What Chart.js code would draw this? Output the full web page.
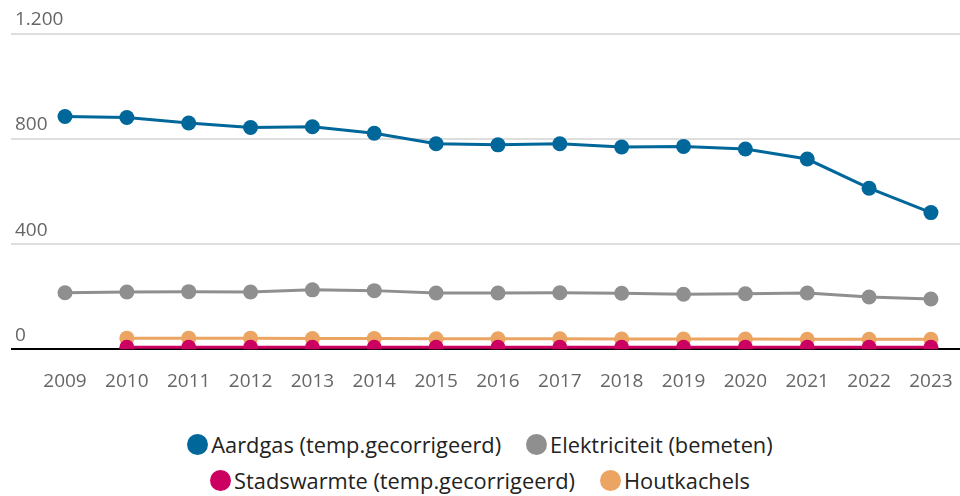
<!DOCTYPE html>
<html lang="nl">
<head>
<meta charset="utf-8">
<script src="https://cdn.jsdelivr.net/npm/chart.js@4/dist/chart.umd.min.js"></script>
<style>
  html,body{margin:0;padding:0;background:#fff;}
  body{width:960px;height:496px;overflow:hidden;font-family:"Open Sans",sans-serif;}
  .wrap{position:relative;width:960px;height:408px;}
  #legend{display:flex;flex-wrap:wrap;justify-content:center;width:640px;margin:24px auto 0;column-gap:25px;row-gap:11px;}
  #legend .item{display:flex;align-items:center;font-size:21.8px;color:#222;height:25px;}
  #legend .dot{width:21px;height:21px;border-radius:50%;margin-right:3px;}
</style>
</head>
<body>
<div class="wrap"><canvas id="energyChart"></canvas></div>
<div id="legend"></div>
<script>
// Jaren en verbruik per energiebron
const years = [2009,2010,2011,2012,2013,2014,2015,2016,2017,2018,2019,2020,2021,2022,2023];
const aardgas = [886,882,861,844,847,822,782,778,782,770,772,762,724,613,520];
const elektriciteit = [215,218,219,218,226,223,214,214,215,213,209,211,214,199,191];
const stadswarmte = [null,7,7,7,7,7,7,7,7,7,7,7,7,7,7];
const houtkachels = [null,42,42,42,41,41,40,40,40,39,39,39,38,38,38];
const yTicks = [0,400,800,1200];

const names = ['Aardgas (temp.gecorrigeerd)','Elektriciteit (bemeten)','Stadswarmte (temp.gecorrigeerd)','Houtkachels'];
const colors = ['#00679a','#8f8f8f','#cc0060','#eba462'];

function pts(arr){return years.map((y,i)=>({x:y,y:arr[i]}));}
function ds(i,arr,order){
    return {label:names[i],data:pts(arr),borderColor:colors[i],backgroundColor:colors[i],
        borderWidth:3,pointRadius:7.5,pointHoverRadius:7.5,pointBorderWidth:0,tension:0,order:order};
}

const ctx = document.getElementById('energyChart').getContext('2d');
const chart = new Chart(ctx,{
    type:'line',
    data:{datasets:[ds(0,aardgas,1),ds(1,elektriciteit,2),ds(2,stadswarmte,3),ds(3,houtkachels,4)]},
    options:{
        responsive:true,maintainAspectRatio:false,animation:false,locale:'nl-NL',
        layout:{autoPadding:false,padding:{left:3,right:0,top:34,bottom:2}},
        plugins:{legend:{display:false},tooltip:{enabled:false}},
        scales:{
            x:{type:'linear',min:2008.127,max:2023.47,
                grid:{display:false},border:{display:false},
                afterBuildTicks:s=>{s.ticks=years.map(v=>({value:v}));},
                afterFit:s=>{s.paddingLeft=0;s.paddingRight=0;},
                ticks:{color:'#666',font:{family:'Open Sans',size:19},padding:13,callback:v=>String(v),maxRotation:0,autoSkip:false}},
            y:{min:0,max:1200,
                afterBuildTicks:s=>{s.ticks=yTicks.map(v=>({value:v}));},
                grid:{drawTicks:false,lineWidth:2,color:c=>c.tick&&c.tick.value===0?'#000':'#dedede'},
                border:{display:false},
                ticks:{mirror:true,padding:4,labelOffset:-14,color:'#666',font:{family:'Open Sans',size:19},
                    callback:v=>v.toLocaleString('nl-NL')}}
        }
    }
});

// legenda in twee rijen onder de grafiek
const legend = document.getElementById('legend');
names.forEach((n,i)=>{
    const it=document.createElement('div');it.className='item';
    const d=document.createElement('span');d.className='dot';d.style.background=colors[i];
    it.appendChild(d);it.appendChild(document.createTextNode(n));legend.appendChild(it);
});
</script>
</body>
</html>
